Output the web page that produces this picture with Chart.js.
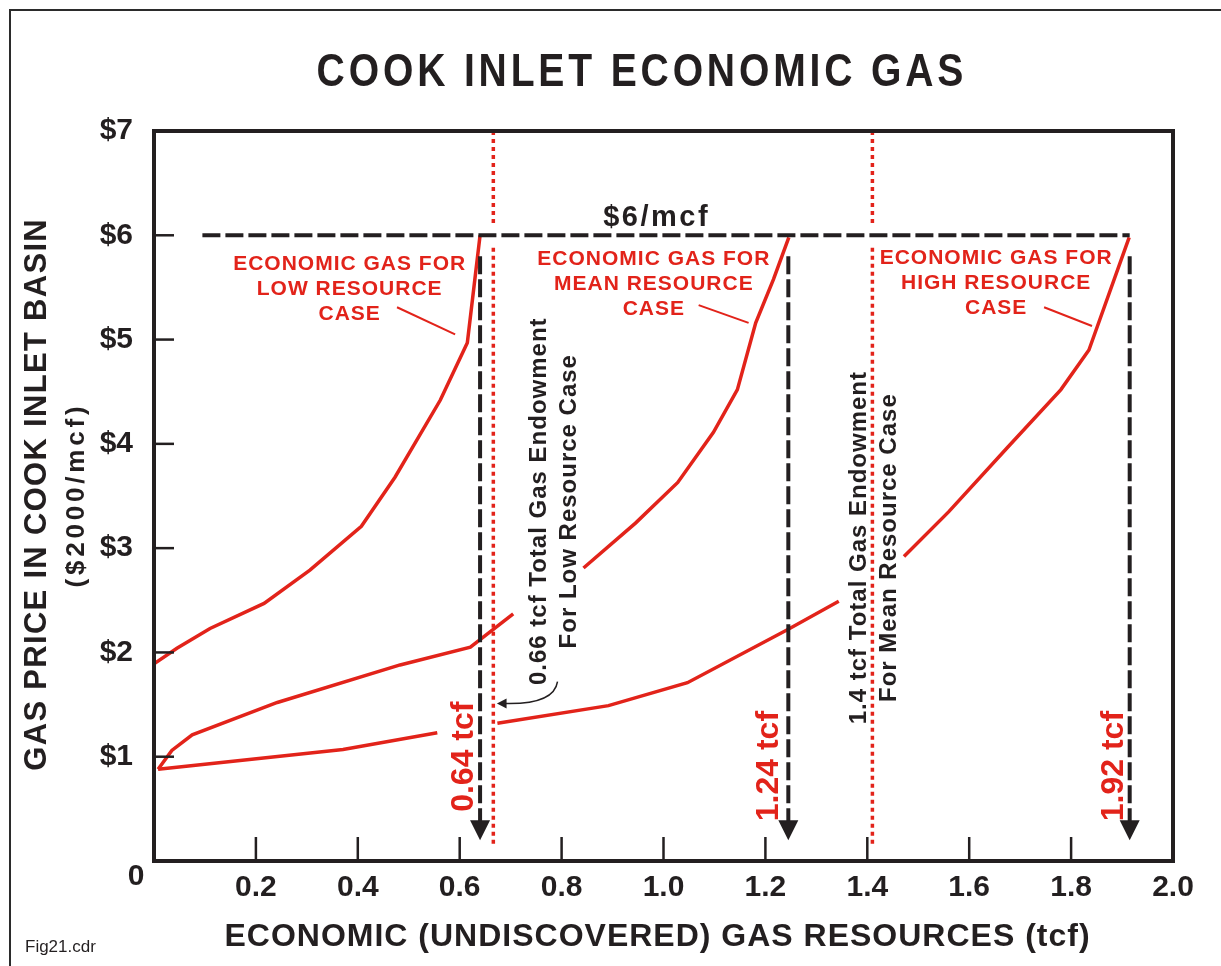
<!DOCTYPE html>
<html><head><meta charset="utf-8">
<script src="https://cdn.jsdelivr.net/npm/chart.js@4.4.1/dist/chart.umd.min.js"></script>
<style>html,body{margin:0;padding:0;background:#fff;overflow:hidden}#wrap{width:1221px;height:966px;position:relative}canvas{display:block}</style>
</head><body><div id="wrap"><canvas id="c" width="1221" height="966"></canvas></div>
<script>
const FONT = '"Liberation Sans", Arial, Helvetica, sans-serif';
const RED = '#e2231a';
const INK = '#231f20';

// ---- data ----
const lowX  = [0.0, 0.045, 0.11, 0.216, 0.306, 0.407, 0.473, 0.562, 0.615, 0.640];
const lowY  = [1.89, 2.04, 2.23, 2.47, 2.79, 3.21, 3.68, 4.42, 4.97, 6.0];
const meanX = [0.008, 0.035, 0.075, 0.242, 0.483, 0.621, 0.705, 0.77, 0.843, 0.945, 1.028, 1.098, 1.145, 1.181, 1.216, 1.246];
const meanY = [0.88, 1.06, 1.21, 1.52, 1.88, 2.05, 2.37, null, 2.81, 3.24, 3.63, 4.11, 4.52, 5.16, 5.58, 5.98];
const highX = [0.008, 0.371, 0.556, 0.62, 0.674, 0.892, 1.047, 1.244, 1.344, 1.41, 1.472, 1.56, 1.676, 1.78, 1.835, 1.914];
const highY = [0.88, 1.07, 1.23, null, 1.32, 1.49, 1.71, 2.22, 2.49, null, 2.92, 3.35, 3.97, 4.52, 4.90, 5.98];

const xTickValues = [0.2, 0.4, 0.6, 0.8, 1.0, 1.2, 1.4, 1.6, 1.8, 2.0];
const yTickValues = [1, 2, 3, 4, 5, 6, 7];
const yTickLabels = ['$1', '$2', '$3', '$4', '$5', '$6', '$7'];
const innerTicksX = [0.2, 0.4, 0.6, 0.8, 1.0, 1.2, 1.4, 1.6, 1.8];
const innerTicksY = [1, 2, 3, 4, 5, 6];

const priceLevel = 6;
const priceLineFrom = 0.095, priceLineTo = 1.915;
const priceLabel = '$6/mcf';
const economicTotals = [0.64, 1.245, 1.915];
const economicLabels = ['0.64 tcf', '1.24 tcf', '1.92 tcf'];
const endowments = [0.666, 1.41];

const caseLabels = [
  ['ECONOMIC GAS FOR', 'LOW RESOURCE', 'CASE'],
  ['ECONOMIC GAS FOR', 'MEAN RESOURCE', 'CASE'],
  ['ECONOMIC GAS FOR', 'HIGH RESOURCE', 'CASE']
];
const endowmentNotes = [
  ['0.66 tcf Total Gas Endowment', 'For Low Resource Case'],
  ['1.4 tcf Total Gas Endowment', 'For Mean Resource Case']
];

function pts(xs, ys){ return xs.map((x,i)=>({x:x, y:ys[i]})); }

function txt(ctx, s, x, y, o){
  const size=o.size, spacing=o.spacing||0;
  ctx.save();
  ctx.translate(x,y);
  if(o.rot) ctx.rotate(o.rot);
  if(o.sx) ctx.scale(o.sx,1);
  ctx.font = (o.weight||'bold')+' '+size+'px '+FONT;
  ctx.fillStyle = o.color||INK;
  ctx.letterSpacing = spacing+'px';
  ctx.textBaseline='alphabetic';
  ctx.textAlign='left';
  const w = ctx.measureText(s).width - spacing;
  let sx = -w/2;
  if(o.align==='left') sx=0;
  if(o.align==='right') sx=-w;
  ctx.fillText(s, sx, 0.358*size);
  ctx.restore();
}

const deco = {
  id:'deco',
  beforeDraw(chart){
    const ctx=chart.ctx;
    ctx.save();
    ctx.fillStyle='#fff'; ctx.fillRect(0,0,chart.width,chart.height);
    ctx.strokeStyle='#2b2b2b'; ctx.lineWidth=2;
    ctx.beginPath(); ctx.moveTo(10,chart.height); ctx.lineTo(10,10); ctx.lineTo(chart.width,10); ctx.stroke();
    ctx.restore();
  },
  afterDatasetsDraw(chart){
    const ctx=chart.ctx, xs=chart.scales.x, ys=chart.scales.y, a=chart.chartArea;
    const X=v=>xs.getPixelForValue(v), Y=v=>ys.getPixelForValue(v);
    ctx.save();
    // red dotted endowment lines
    ctx.strokeStyle=RED; ctx.lineWidth=3.5; ctx.setLineDash([4,4]);
    endowments.forEach(e=>{
      ctx.beginPath();
      ctx.moveTo(X(e), Y(7)); ctx.lineTo(X(e), Y(6.1));
      ctx.moveTo(X(e), Y(5.88)); ctx.lineTo(X(e), Y(0.13));
      ctx.stroke();
    });
    // $6 dashed line
    ctx.strokeStyle=INK; ctx.lineWidth=4; ctx.setLineDash([18,5]);
    ctx.beginPath(); ctx.moveTo(X(priceLineFrom), Y(priceLevel)); ctx.lineTo(X(priceLineTo), Y(priceLevel)); ctx.stroke();
    // dashed arrows
    economicTotals.forEach(v=>{
      const px=X(v);
      ctx.setLineDash([18,5]); ctx.lineWidth=4;
      ctx.beginPath(); ctx.moveTo(px, Y(5.8)); ctx.lineTo(px, Y(0.37)); ctx.stroke();
      ctx.setLineDash([]);
      ctx.fillStyle=INK;
      ctx.beginPath(); ctx.moveTo(px-10, Y(0.39)); ctx.lineTo(px+10, Y(0.39)); ctx.lineTo(px, Y(0.2)); ctx.closePath(); ctx.fill();
    });
    ctx.setLineDash([]);
    // inner tick marks
    ctx.strokeStyle=INK; ctx.lineWidth=2.5;
    innerTicksY.forEach(v=>{ ctx.beginPath(); ctx.moveTo(a.left, Y(v)); ctx.lineTo(a.left+20, Y(v)); ctx.stroke(); });
    innerTicksX.forEach(v=>{ ctx.beginPath(); ctx.moveTo(X(v), a.bottom); ctx.lineTo(X(v), a.bottom-24); ctx.stroke(); });
    // plot frame
    ctx.lineWidth=4;
    ctx.strokeRect(a.left, a.top, a.right-a.left, a.bottom-a.top);
    // leader lines for case labels
    ctx.strokeStyle=RED; ctx.lineWidth=2;
    [[0.477,5.31,0.591,5.05],[1.069,5.33,1.167,5.16],[1.747,5.31,1.841,5.13]].forEach(l=>{
      ctx.beginPath(); ctx.moveTo(X(l[0]),Y(l[1])); ctx.lineTo(X(l[2]),Y(l[3])); ctx.stroke();
    });
    // curved pointer to 0.66 line
    ctx.strokeStyle=INK; ctx.lineWidth=1.5;
    const sx=X(0.792), sy=Y(1.72), cx=X(0.785), cy=Y(1.5), ex=X(0.69), ey=Y(1.51);
    ctx.beginPath(); ctx.moveTo(sx,sy); ctx.quadraticCurveTo(cx,cy,ex,ey); ctx.stroke();
    ctx.fillStyle=INK;
    ctx.beginPath(); ctx.moveTo(X(0.673), Y(1.51)); ctx.lineTo(X(0.692), Y(1.51)+5); ctx.lineTo(X(0.692), Y(1.51)-5); ctx.closePath(); ctx.fill();

    // case labels (red)
    const caseAnchors=[[0.383,[5.74,5.50,5.26]],[0.980,[5.79,5.55,5.31]],[1.652,[5.80,5.56,5.32]]];
    caseLabels.forEach((lines,i)=>{
      lines.forEach((s,j)=> txt(ctx, s, X(caseAnchors[i][0]), Y(caseAnchors[i][1][j]), {size:21, spacing:1, color:RED}));
    });
    // $6/mcf
    txt(ctx, priceLabel, X(0.984), Y(6.19), {size:29, spacing:2.5});
    // economic totals (rotated red)
    const ecoAnch=[[0.603,1.0],[1.202,0.91],[1.880,0.91]];
    economicLabels.forEach((s,i)=> txt(ctx, s, X(ecoAnch[i][0]), Y(ecoAnch[i][1]), {size:32, color:RED, rot:-Math.PI/2}));
    // endowment notes (rotated black)
    const noteAnch=[[[0.753,0.811],3.445],[[1.381,1.440],3.0]];
    endowmentNotes.forEach((lines,i)=>{
      lines.forEach((s,j)=> txt(ctx, s, X(noteAnch[i][0][j]), Y(noteAnch[i][1]), {size:24, spacing:1, rot:-Math.PI/2}));
    });
    ctx.restore();
  },
  afterDraw(chart){
    const ctx=chart.ctx;
    txt(ctx, 'COOK INLET ECONOMIC GAS', 640, 70, {size:46, spacing:4.5, sx:0.85});
    txt(ctx, 'GAS PRICE IN COOK INLET BASIN', 35, 495, {size:31, spacing:1.3, rot:-Math.PI/2});
    txt(ctx, '($2000/mcf)', 75, 497, {size:26, spacing:3.8, rot:-Math.PI/2});
    txt(ctx, 'ECONOMIC (UNDISCOVERED) GAS RESOURCES (tcf)', 657, 935, {size:32, spacing:1});
    txt(ctx, '0', 136, 874, {size:30});
    txt(ctx, 'Fig21.cdr', 25, 946, {size:17, weight:'normal', align:'left'});
  }
};

const ds = (data)=>({data:data, borderColor:RED, borderWidth:3.5, pointRadius:0, tension:0, spanGaps:false, fill:false});

new Chart(document.getElementById('c'), {
  type:'line',
  data:{ datasets:[ ds(pts(lowX,lowY)), ds(pts(meanX,meanY)), ds(pts(highX,highY)) ] },
  options:{
    responsive:false, animation:false, devicePixelRatio:1,
    layout:{padding:{left:0,right:48,top:131,bottom:0}},
    plugins:{legend:{display:false}, tooltip:{enabled:false}, title:{display:false}},
    scales:{
      x:{ type:'linear', min:0, max:2,
        grid:{display:false, drawTicks:false}, border:{display:false},
        afterBuildTicks:s=>{ s.ticks = xTickValues.map(v=>({value:v})); },
        afterFit:s=>{ s.height = 105; },
        ticks:{ autoSkip:false, maxRotation:0, minRotation:0, padding:9, color:INK,
          font:{family:FONT, size:30, weight:'bold'},
          callback:(v)=> Number(v).toFixed(1) } },
      y:{ type:'linear', min:0, max:7,
        grid:{display:false, drawTicks:false}, border:{display:false},
        afterBuildTicks:s=>{ s.ticks = yTickValues.map(v=>({value:v})); },
        afterFit:s=>{ s.width = 154; },
        ticks:{ autoSkip:false, padding:21, color:INK,
          font:{family:FONT, size:30, weight:'bold'},
          callback:(v)=> yTickLabels[yTickValues.indexOf(Number(v))] } }
    }
  },
  plugins:[deco]
});
</script></body></html>
